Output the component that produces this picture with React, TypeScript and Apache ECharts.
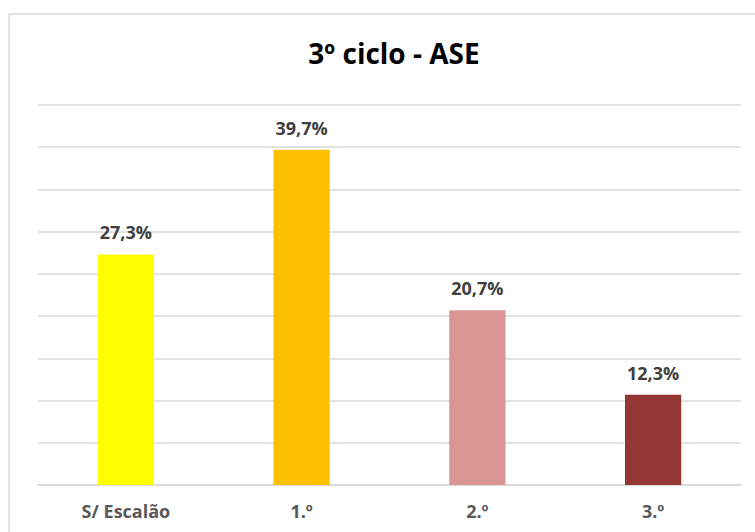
import React, { useEffect, useRef } from "react";
import * as echarts from "echarts";

const categories = ["S/ Escalão", "1.º", "2.º", "3.º"];
// bar heights as drawn in the reference (percent)
const values = [27.3, 39.7, 20.7, 10.7];
// data labels as printed in the reference
const valueLabels = ["27,3%", "39,7%", "20,7%", "12,3%"];
const barColors = ["#FFFF00", "#FFC000", "#DA9694", "#953735"];
const titleText = "3º ciclo - ASE";

export default function App() {
  const ref = useRef<HTMLDivElement>(null);
  useEffect(() => {
    if (!ref.current) return;
    const chart = echarts.init(ref.current, null, { renderer: "svg" });
    chart.setOption({
      animation: false,
      backgroundColor: "#ffffff",
      title: {
        text: titleText,
        left: 389,
        textAlign: "center",
        top: 34,
        textStyle: {
          fontFamily: "Open Sans",
          fontWeight: "bold",
          fontSize: 28,
          color: "#000000",
        },
      },
      graphic: [
        {
          type: "rect",
          shape: { x: 9, y: 14, width: 800, height: 600 },
          style: { fill: "none", stroke: "#d9d9d9", lineWidth: 1.5 },
          silent: true,
        },
      ],
      grid: { left: 38, right: 14, top: 105, bottom: 47 },
      xAxis: {
        type: "category",
        data: categories,
        axisLine: { show: true, lineStyle: { color: "#d9d9d9", width: 1.5 } },
        axisTick: { show: false },
        axisLabel: {
          margin: 17,
          fontFamily: "Open Sans",
          fontWeight: "bold",
          fontSize: 18,
          color: "#595959",
        },
      },
      yAxis: {
        type: "value",
        min: 0,
        max: 45,
        interval: 5,
        axisLabel: { show: false },
        axisLine: { show: false },
        axisTick: { show: false },
        splitLine: { lineStyle: { color: "#d9d9d9", width: 1.5 } },
      },
      series: [
        {
          type: "bar",
          barWidth: "32%",
          data: values.map((v, i) => ({ value: v, itemStyle: { color: barColors[i] } })),
          label: {
            show: true,
            position: "top",
            distance: 13,
            formatter: (p: any) => valueLabels[p.dataIndex],
            fontFamily: "Open Sans",
            fontWeight: "bold",
            fontSize: 18,
            color: "#404040",
          },
        },
      ],
    });
    return () => chart.dispose();
  }, []);
  return (
    <div
      ref={ref}
      style={{ position: "absolute", left: 0, top: 0, width: 755, height: 532 }}
    />
  );
}
